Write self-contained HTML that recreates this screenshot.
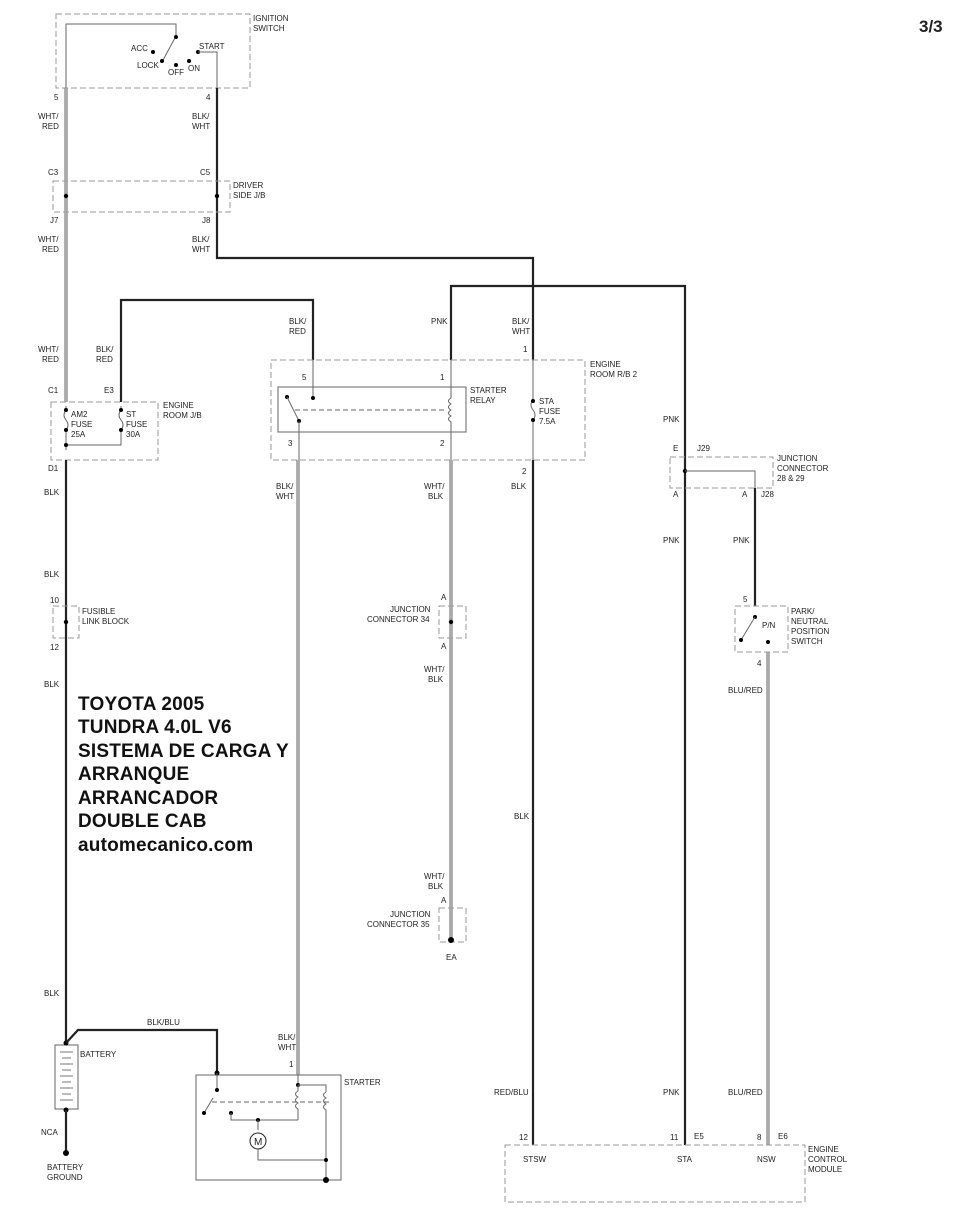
<!DOCTYPE html>
<html><head><meta charset="utf-8"><style>
body{margin:0;background:#fff;}
svg{display:block;}
text{font-family:"Liberation Sans",sans-serif;font-size:8px;fill:#222;}
.t{font-size:19px;font-weight:bold;fill:#111;letter-spacing:0.2px;}
.d{fill:none;stroke:#999;stroke-width:1;stroke-dasharray:6,3;}
.w{fill:none;stroke:#222;stroke-width:2.2;}
.g{fill:none;stroke:#666;stroke-width:3;}
.gi{fill:none;stroke:#eee;stroke-width:1;}
.n{fill:none;stroke:#666;stroke-width:1;}
</style></head><body>
<svg width="960" height="1214" viewBox="0 0 960 1214">
<text x="919" y="32" style="font-size:17px;font-weight:bold">3/3</text>

<rect class="d" x="56" y="14" width="194" height="74"/>
<text x="253" y="21">IGNITION</text><text x="253" y="31">SWITCH</text>
<polyline class="n" points="66,88 66,24 176,24 176,36"/>
<line class="n" x1="176" y1="36" x2="162" y2="62" stroke-width="1.5"/>
<circle cx="176" cy="37" r="2"/><circle cx="153" cy="52" r="2"/><circle cx="162" cy="61" r="2"/>
<circle cx="176" cy="65" r="2"/><circle cx="189" cy="61" r="2"/><circle cx="198" cy="52" r="2"/>
<text x="131" y="51">ACC</text><text x="137" y="68">LOCK</text><text x="168" y="75">OFF</text><text x="188" y="71">ON</text><text x="199" y="49">START</text>
<polyline class="n" points="198,52 217,52 217,88"/>
<text x="54" y="100">5</text><text x="206" y="100">4</text>

<line class="g" x1="66" y1="88" x2="66" y2="402"/><line class="gi" x1="66" y1="88" x2="66" y2="402"/>
<text x="38" y="119">WHT/</text><text x="42" y="129">RED</text>
<text x="48" y="175">C3</text><text x="50" y="223">J7</text>
<text x="38" y="242">WHT/</text><text x="42" y="252">RED</text>
<text x="38" y="352">WHT/</text><text x="42" y="362">RED</text>
<text x="48" y="393">C1</text>

<polyline class="w" points="217,88 217,258 533,258 533,360" stroke-width="1.8"/>
<text x="192" y="119">BLK/</text><text x="192" y="129">WHT</text>
<text x="200" y="175">C5</text><text x="202" y="223">J8</text>
<text x="192" y="242">BLK/</text><text x="192" y="252">WHT</text>

<rect class="d" x="53" y="181" width="177" height="31"/>
<circle cx="66" cy="196" r="2.2"/><circle cx="217" cy="196" r="2.2"/>
<text x="233" y="188">DRIVER</text><text x="233" y="198">SIDE J/B</text>

<polyline class="w" points="121,402 121,300 313,300 313,360" stroke-width="1.8"/>
<text x="96" y="352">BLK/</text><text x="96" y="362">RED</text>
<text x="104" y="393">E3</text>
<text x="289" y="324">BLK/</text><text x="289" y="334">RED</text>

<polyline class="w" points="451,360 451,286 685,286 685,455"/>
<text x="431" y="324">PNK</text>
<text x="512" y="324">BLK/</text><text x="512" y="334">WHT</text>
<text x="523" y="352">1</text>

<rect class="d" x="51" y="402" width="107" height="58"/>
<text x="163" y="408">ENGINE</text><text x="163" y="418">ROOM J/B</text>
<path class="n" d="M66,406 v4 q-4,5 0,10 q4,5 0,10 v20" stroke="#222"/>
<path class="n" d="M121,406 v4 q-4,5 0,10 q4,5 0,10 v15 H66" stroke="#222"/>
<circle cx="66" cy="410" r="2"/><circle cx="66" cy="430" r="2"/><circle cx="121" cy="410" r="2"/><circle cx="121" cy="430" r="2"/><circle cx="66" cy="445" r="2"/>
<text x="71" y="417">AM2</text><text x="71" y="427">FUSE</text><text x="71" y="437">25A</text>
<text x="126" y="417">ST</text><text x="126" y="427">FUSE</text><text x="126" y="437">30A</text>
<text x="48" y="471">D1</text>

<line class="w" x1="66" y1="460" x2="66" y2="1045"/>
<text x="44" y="495">BLK</text><text x="44" y="577">BLK</text>
<text x="50" y="603">10</text><text x="50" y="650">12</text>
<rect class="d" x="53" y="606" width="26" height="32"/><circle cx="66" cy="622" r="2.2"/>
<text x="82" y="614">FUSIBLE</text><text x="82" y="624">LINK BLOCK</text>
<text x="44" y="687">BLK</text><text x="44" y="996">BLK</text>

<text class="t" x="78" y="710">TOYOTA 2005</text>
<text class="t" x="78" y="733">TUNDRA 4.0L V6</text>
<text class="t" x="78" y="757">SISTEMA DE CARGA Y</text>
<text class="t" x="78" y="780">ARRANQUE</text>
<text class="t" x="78" y="804">ARRANCADOR</text>
<text class="t" x="78" y="827">DOUBLE CAB</text>
<text class="t" x="78" y="851">automecanico.com</text>

<rect class="d" x="271" y="360" width="314" height="100"/>
<text x="590" y="367">ENGINE</text><text x="590" y="377">ROOM R/B 2</text>
<rect class="n" x="278" y="387" width="188" height="45"/>
<text x="470" y="393">STARTER</text><text x="470" y="403">RELAY</text>
<text x="302" y="380">5</text><text x="440" y="380">1</text>
<text x="288" y="446">3</text><text x="440" y="446">2</text>
<line class="n" x1="313" y1="360" x2="313" y2="397"/><circle cx="313" cy="398" r="2"/>
<circle cx="287" cy="397" r="2"/><line class="n" x1="287" y1="397" x2="299" y2="421" stroke="#222"/>
<circle cx="299" cy="421" r="2"/><line class="n" x1="299" y1="421" x2="299" y2="460"/>
<line class="n" x1="295" y1="410" x2="446" y2="410" stroke-dasharray="5,3"/>
<path class="n" d="M451,360 v38 q-5,3 0,6 q-5,3 0,6 q-5,3 0,6 q-5,3 0,6 v38" stroke="#222"/>
<path class="n" d="M533,360 v40 q-4,5 0,10 q4,5 0,10 v40" stroke="#222"/>
<circle cx="533" cy="401" r="2"/><circle cx="533" cy="420" r="2"/>
<text x="539" y="404">STA</text><text x="539" y="414">FUSE</text><text x="539" y="424">7.5A</text>
<text x="522" y="474">2</text>

<line class="g" x1="298" y1="460" x2="298" y2="1075" stroke="#333"/><line class="gi" x1="298" y1="460" x2="298" y2="1075" stroke="#aaa"/>
<text x="276" y="489">BLK/</text><text x="276" y="499">WHT</text>
<text x="278" y="1040">BLK/</text><text x="278" y="1050">WHT</text>
<text x="289" y="1067">1</text>

<line class="g" x1="451" y1="460" x2="451" y2="940"/><line class="gi" x1="451" y1="460" x2="451" y2="940"/>
<text x="424" y="489">WHT/</text><text x="428" y="499">BLK</text>
<text x="441" y="600">A</text><text x="441" y="649">A</text>
<rect class="d" x="439" y="606" width="27" height="32"/><circle cx="451" cy="622" r="2.2"/>
<text x="390" y="612">JUNCTION</text><text x="367" y="622">CONNECTOR 34</text>
<text x="424" y="672">WHT/</text><text x="428" y="682">BLK</text>
<text x="424" y="879">WHT/</text><text x="428" y="889">BLK</text>
<text x="441" y="903">A</text>
<rect class="d" x="439" y="908" width="27" height="34"/><circle cx="451" cy="940" r="3"/>
<text x="390" y="917">JUNCTION</text><text x="367" y="927">CONNECTOR 35</text>
<text x="446" y="960">EA</text>

<line class="w" x1="533" y1="460" x2="533" y2="1145" stroke-width="1.8"/>
<text x="511" y="489">BLK</text><text x="514" y="819">BLK</text>
<text x="494" y="1095">RED/BLU</text>

<line class="w" x1="685" y1="455" x2="685" y2="1145"/>
<text x="663" y="422">PNK</text>
<text x="673" y="451">E</text><text x="697" y="451">J29</text>
<rect class="d" x="670" y="457" width="103" height="31"/>
<circle cx="685" cy="471" r="2.2"/><polyline class="n" points="685,471 755,471 755,488"/>
<text x="777" y="461">JUNCTION</text><text x="777" y="471">CONNECTOR</text><text x="777" y="481">28 &amp; 29</text>
<text x="673" y="497">A</text><text x="742" y="497">A</text><text x="761" y="497">J28</text>
<line class="w" x1="755" y1="488" x2="755" y2="606"/>
<text x="663" y="543">PNK</text><text x="733" y="543">PNK</text>
<text x="743" y="602">5</text>
<rect class="d" x="735" y="606" width="53" height="46"/>
<circle cx="755" cy="617" r="2"/><line class="n" x1="755" y1="617" x2="741" y2="640" stroke="#222"/><circle cx="741" cy="640" r="2"/>
<circle cx="768" cy="642" r="2"/>
<text x="762" y="628">P/N</text>
<text x="791" y="614">PARK/</text><text x="791" y="624">NEUTRAL</text><text x="791" y="634">POSITION</text><text x="791" y="644">SWITCH</text>
<text x="757" y="666">4</text>
<line class="g" x1="768" y1="652" x2="768" y2="1145"/><line class="gi" x1="768" y1="652" x2="768" y2="1145"/>
<text x="728" y="693">BLU/RED</text>
<text x="663" y="1095">PNK</text><text x="728" y="1095">BLU/RED</text>

<rect class="d" x="505" y="1145" width="300" height="57"/>
<text x="519" y="1140">12</text><text x="670" y="1140">11</text><text x="694" y="1139">E5</text>
<text x="757" y="1140">8</text><text x="778" y="1139">E6</text>
<text x="523" y="1162">STSW</text><text x="677" y="1162">STA</text><text x="757" y="1162">NSW</text>
<text x="808" y="1152">ENGINE</text><text x="808" y="1162">CONTROL</text><text x="808" y="1172">MODULE</text>

<rect class="n" x="55" y="1045" width="23" height="64" fill="#fff"/>
<g stroke="#777" stroke-width="1">
<line x1="60" y1="1052" x2="73" y2="1052"/><line x1="62" y1="1058" x2="71" y2="1058"/>
<line x1="60" y1="1064" x2="73" y2="1064"/><line x1="62" y1="1070" x2="71" y2="1070"/>
<line x1="60" y1="1076" x2="73" y2="1076"/><line x1="62" y1="1082" x2="71" y2="1082"/>
<line x1="60" y1="1088" x2="73" y2="1088"/><line x1="62" y1="1094" x2="71" y2="1094"/>
<line x1="60" y1="1100" x2="73" y2="1100"/></g>
<circle cx="66" cy="1043" r="2.5"/><circle cx="66" cy="1110" r="2.5"/>
<text x="80" y="1057">BATTERY</text>
<line class="w" x1="66" y1="1110" x2="66" y2="1152"/><circle cx="66" cy="1153" r="3"/>
<text x="41" y="1135">NCA</text>
<text x="47" y="1170">BATTERY</text><text x="47" y="1180">GROUND</text>
<polyline class="w" points="66,1043 78,1030 217,1030 217,1073" stroke-width="1.8"/>
<text x="147" y="1025">BLK/BLU</text>

<rect class="n" x="196" y="1075" width="145" height="105"/>
<text x="344" y="1085">STARTER</text>
<circle cx="217" cy="1073" r="2.5"/>
<line class="n" x1="217" y1="1073" x2="217" y2="1090" stroke="#222"/><circle cx="217" cy="1090" r="2"/>
<line class="n" x1="213" y1="1098" x2="204" y2="1113" stroke="#222"/><circle cx="204" cy="1113" r="2"/>
<line class="n" x1="212" y1="1102" x2="330" y2="1102" stroke-dasharray="5,3"/>
<circle cx="231" cy="1113" r="2"/><polyline class="n" points="231,1113 231,1120 298,1120" stroke="#222"/>
<circle cx="258" cy="1120" r="2"/>
<line class="n" x1="298" y1="1075" x2="298" y2="1085"/><circle cx="298" cy="1085" r="2"/>
<path class="n" d="M298,1085 v6 q-5,3 0,6 q-5,3 0,6 q-5,3 0,6 v11" stroke="#222"/>
<polyline class="n" points="298,1085 326,1085 326,1092" stroke="#222"/>
<path class="n" d="M326,1092 q-5,3 0,6 q-5,3 0,6 q-5,3 0,6 v70" stroke="#222"/>
<line class="n" x1="258" y1="1120" x2="258" y2="1130"/>
<circle cx="258" cy="1141" r="8" fill="#fff" stroke="#222" stroke-width="1"/>
<text x="254" y="1145" style="font-size:10px">M</text>
<polyline class="n" points="258,1149 258,1160 326,1160"/>
<circle cx="326" cy="1160" r="2"/><circle cx="326" cy="1180" r="3"/>
</svg>
</body></html>
